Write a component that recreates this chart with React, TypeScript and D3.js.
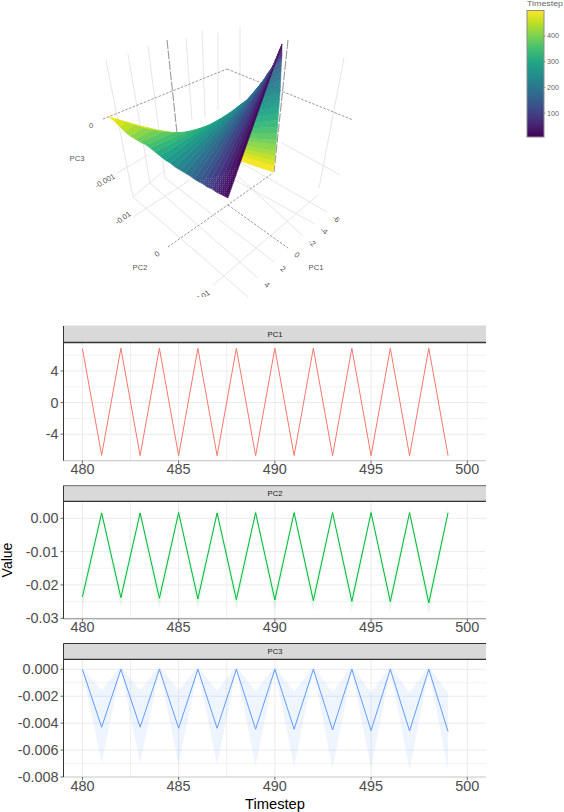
import React from "react";
import * as d3 from "d3";

// ---------- line panels ----------
const timesteps = [480,481,482,483,484,485,486,487,488,489,490,491,492,493,494,495,496,497,498,499];
const pc1Mean = [6.85,-6.68,6.88,-6.7,6.88,-6.72,6.86,-6.72,6.88,-6.72,6.88,-6.7,6.88,-6.72,6.88,-6.72,6.88,-6.72,6.88,-6.72];
const pc2Mean = [-0.0236,0.0016,-0.0238,0.0016,-0.024,0.0017,-0.0242,0.0016,-0.0244,0.0017,-0.0245,0.0017,-0.0247,0.0017,-0.0249,0.0017,-0.025,0.0017,-0.0254,0.0017];
const pc2Upper = [-0.021,0.003,-0.0212,0.003,-0.0214,0.003,-0.0216,0.003,-0.0218,0.003,-0.0219,0.003,-0.0221,0.003,-0.0223,0.003,-0.0224,0.003,-0.0228,0.003];
const pc2Lower = [-0.0272,0.0002,-0.0268,0.0002,-0.027,0.0002,-0.0272,0.0002,-0.0274,0.0002,-0.0276,0.0002,-0.0278,0.0002,-0.028,0.0002,-0.0282,0.0002,-0.0288,0.0002];
const pc3Mean = [0,-0.0043,0,-0.0043,0,-0.00438,0,-0.00438,0,-0.00445,0,-0.00445,0,-0.0045,0,-0.00455,0,-0.00458,0,-0.00462];
const pc3Upper = [0.00005,-0.00155,0.0002,-0.00155,0.0002,-0.00158,0.0002,-0.0016,0.0002,-0.00162,0.0002,-0.00165,0.0002,-0.00168,0.0002,-0.0017,0.0002,-0.00172,0.0002,-0.00175];
const pc3Lower = [-0.00005,-0.007,-0.0001,-0.007,-0.0001,-0.0071,-0.0001,-0.0071,-0.0001,-0.0072,-0.0001,-0.0073,-0.0001,-0.0074,-0.0001,-0.0074,-0.0001,-0.0075,-0.0001,-0.0075];
const xTicks = [480,485,490,495,500];
const xMinor = [482.5,487.5];

const pc1Ticks = [4,0,-4];
const pc1Labels = ["4","0","-4"];
const pc1Minor = [6,2,-2];
const pc2Ticks = [0,-0.01,-0.02,-0.03];
const pc2Labels = ["0.00","-0.01","-0.02","-0.03"];
const pc2Minor = [-0.015,-0.025];
const pc3Ticks = [0,-0.002,-0.004,-0.006,-0.008];
const pc3Labels = ["0.000","-0.002","-0.004","-0.006","-0.008"];
const pc3Minor = [-0.001,-0.007];

// ---------- 3D scene (scene units) ----------
const sceneT = [0,20,40,60,80,100,120,140,160,180,200,220,240,260,280,300,320,340,360,380,400,420,440,460,480,499];
const upperU = [194,192,190,188,186,183,180,177,174,170,165,160,152,143,132,121,110,98,85,75,65,55,46,37,28,21];
const upperV = [24,29,34,39,44,49,53,58,62,67,73,79,85,92,99,105,109,112,113,112,110,108,105,102,99,97];
const lowerU = [140,136,132,128,124,119,115,111,106,102,97,92,87,82,77,72,67,62,58,52,47,42,37,32,27,21];
const lowerV = [178,176,174,172,169,167,164,162,159,156,153,150,147,143,140,136,132,128,125,122,119,116,112,107,102,97];
const wingU = [194,194,194,194,194,193.8,193.7,193.5,193.3,193,192.7,192.4,192,191.5,191,190.5,190,189.5,189,188.5,188,187.5,187,186.5,186,185];
const wingV = [24,27,30,33,36,38,40,42,46,52,60,67,73,80,87,93,100,107,113,120,125,131,136,141,146,152];

type Seg = [number, number, number, number];
const solidAxes: Seg[] = [[15,99,139,49],[139,49,265,100],[80,227,185,153],[140,185,200,228]];
const wallVerticals: Seg[] = [[18,40,45,177],[40,34,62,163],[60,26,77,158],[98,18,104,100],[114,10,117,97],[130,13,130,90],[152,7,152,80],[256,38,231,168]];
const darkVerticals: Seg[] = [[79,20,89,113],[200,20,186,152]];
const floorLines: Seg[] = [[45,177,167,283],[62,163,170,258],[77,158,186,242],[127,135,215,216],[147,160,227,204],[152,142,239,192],[45,197,102,160],[29,153,60,135],[194,123,252,155],[125,265,230,175],[45,177,77,150]];

const sceneLabels = [
  {t:"0",u:3,v:105,r:0},{t:"PC3",u:-11,v:138,r:0},{t:"-0.001",u:17,v:161,r:-30},{t:"-0.01",u:35,v:198,r:-35},
  {t:"0",u:69,v:234,r:-35},{t:"PC2",u:52,v:247,r:0},{t:"0.01",u:115,v:276,r:-35},
  {t:"-6",u:248,v:199,r:40},{t:"-4",u:236,v:211,r:40},{t:"-2",u:224,v:223,r:40},{t:"0",u:209,v:235,r:40},
  {t:"2",u:195,v:249,r:40},{t:"4",u:179,v:265,r:40},{t:"PC1",u:228,v:247,r:0},
];

const legendTicks = [400,300,200,100];
const legendStops = [1,50,100,150,200,250,300,350,400,450,499];
const speckledBands = 8;

const FONT = "'Liberation Sans', Arial, sans-serif";

const sx = d3.scaleLinear().domain([0, 280]).range([88, 368]);
const sy = d3.scaleLinear().domain([0, 280]).range([20, 300]);
const colour = (t: number) => d3.interpolateViridis(t / 499);

function Scene() {
  const seg = (s: Seg) => ({ x1: sx(s[0]), y1: sy(s[1]), x2: sx(s[2]), y2: sy(s[3]) });
  const quad = (ax: number[], ay: number[], bx: number[], by: number[], i: number) =>
    [[ax[i],ay[i]],[ax[i+1],ay[i+1]],[bx[i+1],by[i+1]],[bx[i],by[i]]].map(p => `${sx(p[0])},${sy(p[1])}`).join(" ");
  const bands = sceneT.slice(0, -1).map((_, i) => i);
  const speckleEdge = d3.range(speckledBands).map(i => {
    const f = 0.22 * (1 - i / speckledBands);
    return `${sx(lowerU[i] + f * (upperU[i] - lowerU[i]))},${sy(lowerV[i] + f * (upperV[i] - lowerV[i]))}`;
  });
  const speckleLow = d3.range(speckledBands).map(i => `${sx(lowerU[i])},${sy(lowerV[i])}`);
  return (
    <g clipPath="url(#sceneClip)">
      <defs>
        <pattern id="speckle" width={2} height={2} patternUnits="userSpaceOnUse">
          <rect width={1} height={1} fill="#fff" fillOpacity={0.16} />
        </pattern>
      </defs>
      {wallVerticals.map((s,i) => <line key={i} {...seg(s)} stroke="#E6E6E6" strokeWidth={1} />)}
      {floorLines.map((s,i) => <line key={i} {...seg(s)} stroke="#E2E2E2" strokeWidth={0.9} />)}
      {solidAxes.map((s,i) => <line key={i} {...seg(s)} stroke="#8C8C8C" strokeWidth={0.9} strokeDasharray="2.5 1.5" />)}
      {darkVerticals.map((s,i) => <line key={i} {...seg(s)} stroke="#999" strokeWidth={1.1} strokeDasharray="9 1.5" />)}
      {bands.map(i => { const c = colour((sceneT[i]+sceneT[i+1])/2);
        return <polygon key={i} points={quad(wingU,wingV,upperU,upperV,i)} fill={c} stroke={c} strokeWidth={0.5} opacity={0.95} />; })}
      {bands.map(i => { const c = colour((sceneT[i]+sceneT[i+1])/2);
        return <polygon key={i} points={quad(upperU,upperV,lowerU,lowerV,i)} fill={c} stroke={c} strokeWidth={0.5} />; })}
      <polygon points={[...speckleLow, ...speckleEdge.slice().reverse()].join(" ")} fill="url(#speckle)" />
      {sceneLabels.map((l,i) => (
        <text key={i} transform={`translate(${sx(l.u)},${sy(l.v)}) rotate(${l.r})`} textAnchor="middle" dominantBaseline="central"
          fontFamily={FONT} fontSize={7.6} fill="#555">{l.t}</text>
      ))}
    </g>
  );
}

function Legend() {
  const y = d3.scaleLinear().domain([7, 499]).range([137, 10.5]);
  return (
    <g>
      <defs>
        <linearGradient id="vir" x1="0" y1="1" x2="0" y2="0">
          {legendStops.map(s => <stop key={s} offset={(s-1)/498} stopColor={colour(s)} />)}
        </linearGradient>
      </defs>
      <text x={527} y={5.5} fontFamily={FONT} fontSize={7.4} fill="#666" textLength={36} lengthAdjust="spacingAndGlyphs">Timestep</text>
      <rect x={527} y={10.5} width={17} height={126.5} fill="url(#vir)" stroke="#8C8C8C" strokeWidth={1} />
      {legendTicks.map(t => (
        <g key={t}>
          <line x1={544} x2={545.5} y1={y(t)} y2={y(t)} stroke="#777" strokeWidth={0.7} />
          <text x={547} y={y(t)} dominantBaseline="central" fontFamily={FONT} fontSize={7.2} fill="#666">{t}</text>
        </g>
      ))}
    </g>
  );
}

const x = d3.scaleLinear().domain([480, 500]).range([82.4, 467.3]);
const LEFT = 63.5, RIGHT = 486;

type PanelProps = {
  name: string; stripTop: number; stripBottom: number; bottom: number; topLine: string; bottomLine: string;
  y: d3.ScaleLinear<number, number>; ticks: number[]; labels: string[]; minor: number[]; colour: string;
  mean: number[]; upper?: number[]; lower?: number[];
};

function Panel(p: PanelProps) {
  const line = d3.line<number>().x((_, i) => x(timesteps[i])).y(d => p.y(d));
  const area = p.upper && p.lower
    ? d3.area<number>().x((_, i) => x(timesteps[i])).y0((_, i) => p.y(p.lower![i])).y1(d => p.y(d))(p.upper)
    : null;
  return (
    <g>
      {xMinor.map(v => <line key={v} x1={x(v)} x2={x(v)} y1={p.stripBottom} y2={p.bottom} stroke="#EFEFEF" strokeWidth={1} />)}
      {xTicks.map(v => <line key={v} x1={x(v)} x2={x(v)} y1={p.stripBottom} y2={p.bottom} stroke="#EBEBEB" strokeWidth={1} />)}
      {p.minor.map(v => <line key={v} x1={LEFT} x2={RIGHT} y1={p.y(v)} y2={p.y(v)} stroke="#EFEFEF" strokeWidth={0.8} />)}
      {p.ticks.map(v => <line key={v} x1={LEFT} x2={RIGHT} y1={p.y(v)} y2={p.y(v)} stroke="#EBEBEB" strokeWidth={1} />)}
      {area && <path d={area} fill={p.colour} fillOpacity={0.1} />}
      <path d={line(p.mean)!} fill="none" stroke={p.colour} strokeWidth={1} />
      <rect x={LEFT} y={p.stripTop} width={RIGHT-LEFT} height={p.stripBottom-p.stripTop} fill="#D9D9D9" />
      <line x1={LEFT} x2={RIGHT} y1={p.stripTop} y2={p.stripTop} stroke={p.topLine} strokeWidth={1} />
      <line x1={LEFT} x2={RIGHT} y1={p.stripBottom} y2={p.stripBottom} stroke="#333" strokeWidth={1.3} />
      <text x={275} y={(p.stripTop+p.stripBottom)/2} textAnchor="middle" dominantBaseline="central" fontFamily={FONT} fontSize={7.2} fill="#1A1A1A" textLength={15} lengthAdjust="spacingAndGlyphs">{p.name}</text>
      <line x1={LEFT} x2={RIGHT} y1={p.bottom} y2={p.bottom} stroke={p.bottomLine} strokeWidth={1} />
      <line x1={LEFT} x2={LEFT} y1={p.stripTop} y2={p.bottom} stroke="#333" strokeWidth={1} />
      {xTicks.map(v => (
        <g key={v}>
          <line x1={x(v)} x2={x(v)} y1={p.bottom} y2={p.bottom+3} stroke="#444" strokeWidth={0.8} />
          <text x={x(v)} y={p.bottom+13.5} textAnchor="middle" fontFamily={FONT} fontSize={14.4} fill="#4D4D4D">{v}</text>
        </g>
      ))}
      {p.ticks.map((v,i) => (
        <g key={v}>
          <line x1={LEFT-3} x2={LEFT} y1={p.y(v)} y2={p.y(v)} stroke="#444" strokeWidth={0.8} />
          <text x={LEFT-5} y={p.y(v)} textAnchor="end" dominantBaseline="central" fontFamily={FONT} fontSize={14.4} fill="#4D4D4D">{p.labels[i]}</text>
        </g>
      ))}
    </g>
  );
}

export default function App() {
  const y1 = d3.scaleLinear().domain([-4, 4]).range([434.2, 371]);
  const y2 = d3.scaleLinear().domain([-0.03, 0]).range([618.3, 518.3]);
  const y3 = d3.scaleLinear().domain([-0.008, 0]).range([777, 669.3]);
  return (
    <svg width={564} height={812} style={{ position: "absolute", left: 0, top: 0, background: "#fff" }}>
      <defs>
        <clipPath id="sceneClip"><rect x={60} y={15} width={320} height={282} /></clipPath>
      </defs>
      <Scene />
      <Legend />
      <Panel name="PC1" stripTop={326} stripBottom={342.5} bottom={460.7} topLine="#D9D9D9" bottomLine="#C4C4C4"
        y={y1} ticks={pc1Ticks} labels={pc1Labels} minor={pc1Minor} colour="#F8766D" mean={pc1Mean} />
      <Panel name="PC2" stripTop={485.7} stripBottom={501.3} bottom={618.8} topLine="#666" bottomLine="#8A8A8A"
        y={y2} ticks={pc2Ticks} labels={pc2Labels} minor={pc2Minor} colour="#00BA38" mean={pc2Mean} upper={pc2Upper} lower={pc2Lower} />
      <Panel name="PC3" stripTop={643.5} stripBottom={659.3} bottom={777} topLine="#333" bottomLine="#D0D0D0"
        y={y3} ticks={pc3Ticks} labels={pc3Labels} minor={pc3Minor} colour="#619CFF" mean={pc3Mean} upper={pc3Upper} lower={pc3Lower} />
      <text transform="translate(11.5,560) rotate(-90)" textAnchor="middle" fontFamily={FONT} fontSize={14} fill="#000">Value</text>
      <text x={275} y={809} textAnchor="middle" fontFamily={FONT} fontSize={15.5} fill="#000" textLength={60} lengthAdjust="spacingAndGlyphs">Timestep</text>
    </svg>
  );
}
